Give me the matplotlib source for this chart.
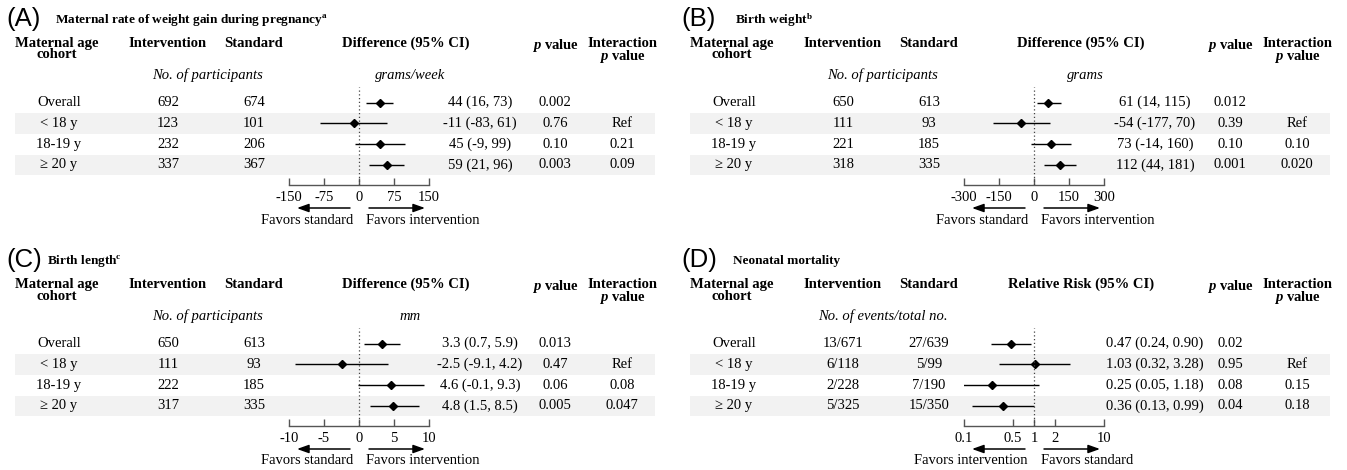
import matplotlib.pyplot as plt
from matplotlib.ticker import NullLocator

plt.rcParams['font.family'] = 'Liberation Serif'
plt.rcParams['mathtext.fontset'] = 'custom'
plt.rcParams['mathtext.rm'] = 'Liberation Serif'
plt.rcParams['mathtext.it'] = 'Liberation Serif:italic:bold'
plt.rcParams['mathtext.bf'] = 'Liberation Serif:bold'
plt.rcParams['axes.unicode_minus'] = False

# --- data -------------------------------------------------------------
cohorts = ["Overall", "< 18 y", "18-19 y", "≥ 20 y"]

# (A) maternal rate of weight gain, grams/week
a_intervention = [692, 123, 232, 337]
a_standard = [674, 101, 206, 367]
a_est = [44, -11, 45, 59]
a_lo = [16, -83, -9, 21]
a_hi = [73, 61, 99, 96]
a_p = ["0.002", "0.76", "0.10", "0.003"]
a_inter = ["", "Ref", "0.21", "0.09"]
a_ticks = [-150, -75, 0, 75, 150]

# (B) birth weight, grams
b_intervention = [650, 111, 221, 318]
b_standard = [613, 93, 185, 335]
b_est = [61, -54, 73, 112]
b_lo = [14, -177, -14, 44]
b_hi = [115, 70, 160, 181]
b_p = ["0.012", "0.39", "0.10", "0.001"]
b_inter = ["", "Ref", "0.10", "0.020"]
b_ticks = [-300, -150, 0, 150, 300]

# (C) birth length, mm
c_intervention = [650, 111, 222, 317]
c_standard = [613, 93, 185, 335]
c_est = [3.3, -2.5, 4.6, 4.8]
c_lo = [0.7, -9.1, -0.1, 1.5]
c_hi = [5.9, 4.2, 9.3, 8.5]
c_p = ["0.013", "0.47", "0.06", "0.005"]
c_inter = ["", "Ref", "0.08", "0.047"]
c_ticks = [-10, -5, 0, 5, 10]

# (D) neonatal mortality, events/total
d_intervention = ["13/671", "6/118", "2/228", "5/325"]
d_standard = ["27/639", "5/99", "7/190", "15/350"]
d_est = [0.47, 1.03, 0.25, 0.36]
d_lo = [0.24, 0.32, 0.05, 0.13]
d_hi = [0.90, 3.28, 1.18, 0.99]
d_p = ["0.02", "0.95", "0.08", "0.04"]
d_inter = ["", "Ref", "0.15", "0.18"]
d_ticks = [0.1, 0.5, 1, 2, 10]
d_ticklabels = ["0.1", "0.5", "1", "2", "10"]

panels = [
    dict(x0=0, y0=0, letter="(A)", tx=55,
         title=r"Maternal rate of weight gain during pregnancy$^{\mathbf{a}}$",
         n1=a_intervention, n2=a_standard, est=a_est, lo=a_lo, hi=a_hi,
         fmt="{:d}", p=a_p, inter=a_inter, ticks=a_ticks,
         ticklabels=[str(t) for t in a_ticks], log=False, ref=0,
         head="Difference (95% CI)", counts="No. of participants",
         units="grams/week", left="Favors standard", right="Favors intervention"),
    dict(x0=675, y0=0, letter="(B)", tx=60,
         title=r"Birth weight$^{\mathbf{b}}$",
         n1=b_intervention, n2=b_standard, est=b_est, lo=b_lo, hi=b_hi,
         fmt="{:d}", p=b_p, inter=b_inter, ticks=b_ticks,
         ticklabels=[str(t) for t in b_ticks], log=False, ref=0,
         head="Difference (95% CI)", counts="No. of participants",
         units="grams", left="Favors standard", right="Favors intervention"),
    dict(x0=0, y0=241, letter="(C)", tx=47,
         title=r"Birth length$^{\mathbf{c}}$",
         n1=c_intervention, n2=c_standard, est=c_est, lo=c_lo, hi=c_hi,
         fmt="{:.1f}", p=c_p, inter=c_inter, ticks=c_ticks,
         ticklabels=[str(t) for t in c_ticks], log=False, ref=0,
         head="Difference (95% CI)", counts="No. of participants",
         units="mm", left="Favors standard", right="Favors intervention"),
    dict(x0=675, y0=241, letter="(D)", tx=58,
         title="Neonatal mortality",
         n1=d_intervention, n2=d_standard, est=d_est, lo=d_lo, hi=d_hi,
         fmt="{:.2f}", p=d_p, inter=d_inter, ticks=d_ticks,
         ticklabels=d_ticklabels, log=True, ref=1,
         head="Relative Risk (95% CI)", counts="No. of events/total no.",
         units="", left="Favors intervention", right="Favors standard"),
]

# --- layout (pixels, relative to each panel's corner) -----------------
W, H = 1347, 470
FS = 10.5
ROW0, STEP = 102.5, 20.8
PLOT_L, PLOT_W = 289, 140
PLOT_TOP, PLOT_BASE = 87, 185
COL_LABEL, COL_INT, COL_STD = 59, 168, 254
COL_DIFF, COL_EST, COL_P, COL_INTER = 406, 480, 555, 622
HEAD_Y = 37
SHADE = '#f2f2f2'
ARROW = dict(arrowstyle='-|>,head_length=0.7,head_width=0.25',
             color='black', lw=1.1, shrinkA=0, shrinkB=0)

fig = plt.figure(figsize=(W / 100, H / 100), dpi=100)
bg = fig.add_axes([0, 0, 1, 1], zorder=0)
bg.set_xlim(0, W)
bg.set_ylim(H, 0)
bg.axis('off')


def txt(x, y, s, **kw):
    kw.setdefault('ha', 'center')
    kw.setdefault('va', 'center')
    kw.setdefault('fontsize', FS)
    bg.text(x, y, s, **kw)


def head(x, y, s):
    txt(x, y, s, va='top', fontweight='bold', linespacing=0.85,
        multialignment='center')


for pn in panels:
    x0, y0 = pn['x0'], pn['y0']
    txt(x0 + 6, y0 + 19, pn['letter'], ha='left', family='Liberation Sans',
        fontsize=18.5)
    txt(x0 + pn['tx'], y0 + 20, pn['title'], ha='left', fontsize=9.5,
        fontweight='bold')

    # column headers
    head(x0 + COL_LABEL - 2, y0 + HEAD_Y, "Maternal age\ncohort")
    head(x0 + COL_INT, y0 + HEAD_Y, "Intervention")
    head(x0 + COL_STD, y0 + HEAD_Y, "Standard")
    head(x0 + COL_DIFF, y0 + HEAD_Y, pn['head'])
    head(x0 + COL_P, y0 + HEAD_Y, r"$\mathit{p}$ value")
    head(x0 + COL_INTER, y0 + HEAD_Y, "Interaction\n" + r"$\mathit{p}$ value")
    txt(x0 + 208, y0 + 75, pn['counts'], fontstyle='italic')
    if pn['units']:
        txt(x0 + 410, y0 + 75, pn['units'], fontstyle='italic')

    # table rows with alternate shading
    for i, name in enumerate(cohorts):
        yr = y0 + ROW0 + i * STEP
        if i % 2 == 1:
            bg.add_patch(plt.Rectangle((x0 + 15, yr - STEP / 2), 640, STEP,
                                       color=SHADE, lw=0, zorder=0))
        txt(x0 + COL_LABEL, yr, name)
        txt(x0 + COL_INT, yr, str(pn['n1'][i]))
        txt(x0 + COL_STD, yr, str(pn['n2'][i]))
        f = pn['fmt']
        est = (f + " (" + f + ", " + f + ")").format(
            pn['est'][i], pn['lo'][i], pn['hi'][i])
        txt(x0 + COL_EST, yr, est)
        txt(x0 + COL_P, yr, pn['p'][i])
        if pn['inter'][i]:
            txt(x0 + COL_INTER, yr, pn['inter'][i])

    # forest plot
    ax = fig.add_axes([(x0 + PLOT_L) / W, 1 - (y0 + PLOT_BASE) / H,
                       PLOT_W / W, (PLOT_BASE - PLOT_TOP) / H], zorder=1)
    ax.patch.set_visible(False)
    if pn['log']:
        ax.set_xscale('log')
    rows = range(len(cohorts))
    ax.hlines(rows, pn['lo'], pn['hi'], color='black', lw=1)
    ax.plot(pn['est'], rows, 'D', color='black', ms=4.5, ls='none')
    ax.axvline(pn['ref'], color='#444444', ls=(0, (1, 2)), lw=0.9)
    ax.set_xlim(pn['ticks'][0], pn['ticks'][-1])
    ax.set_ylim((PLOT_BASE - ROW0) / STEP, (PLOT_TOP - ROW0) / STEP)
    ax.set_xticks(pn['ticks'])
    ax.set_xticklabels(pn['ticklabels'])
    ax.xaxis.set_minor_locator(NullLocator())
    ax.set_yticks([])
    for s in ['top', 'left', 'right']:
        ax.spines[s].set_visible(False)
    ax.spines['bottom'].set_color('#555555')
    ax.spines['bottom'].set_linewidth(1)
    ax.tick_params(axis='x', direction='in', length=5, width=1,
                   color='#555555', pad=4, labelsize=FS)

    # direction arrows
    xc = x0 + PLOT_L + PLOT_W / 2
    ya = y0 + 208
    bg.annotate('', xy=(xc - 62, ya), xytext=(xc - 9, ya), arrowprops=ARROW)
    bg.annotate('', xy=(xc + 66, ya), xytext=(xc + 10, ya), arrowprops=ARROW)
    txt(xc - 6, y0 + 220, pn['left'], ha='right')
    txt(xc + 7, y0 + 220, pn['right'], ha='left')

fig.savefig('out.png', dpi=100)
